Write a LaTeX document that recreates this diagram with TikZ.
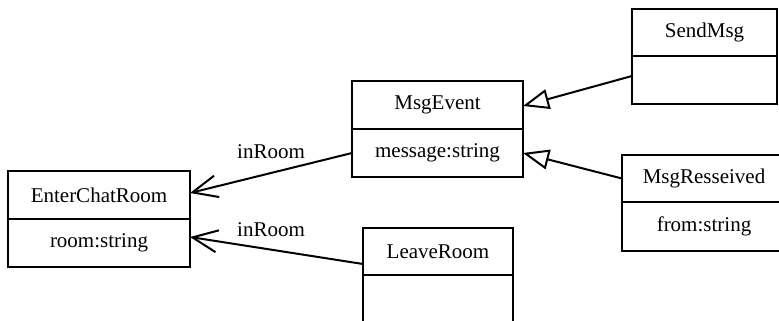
\documentclass[tikz,border=0pt]{standalone}
\usepackage{fontspec}
\setmainfont{Liberation Serif}
\usetikzlibrary{arrows.meta}
\begin{document}
\begin{tikzpicture}[x=1pt,y=-1pt,
  cls/.style={draw, line width=2pt, inner sep=0pt, outer sep=0pt, minimum height=48pt,
    font=\fontsize{21}{24}\selectfont},
  lnk/.style={line width=2pt},
  assoc/.style={lnk, -{Straight Barb[length=25pt,width=22pt,line width=2pt]}},
  inherit/.style={lnk, -{Triangle[open,length=26pt,width=20pt,line width=2pt]}},
  lbl/.style={font=\fontsize{21}{24}\selectfont, inner sep=0pt}]
\useasboundingbox (0,0) rectangle (779,321);
\clip (0,0) rectangle (779,321);
% EnterChatRoom
\node[cls, minimum width=182pt] (ecr) at (99,195) {EnterChatRoom};
\node[cls, minimum width=182pt, anchor=north] (ecra) at (ecr.south) {room:string};
% MsgEvent
\node[cls, minimum width=171pt] (meh) at (437.5,105) {MsgEvent};
\node[cls, minimum width=171pt, anchor=north] (mea) at (meh.south) {message:string};
% SendMsg
\node[cls, minimum width=145pt, minimum height=47pt] (smh) at (704.5,32.5) {SendMsg};
\node[cls, minimum width=145pt, anchor=north] (sma) at (smh.south) {};
% MsgResseived
\node[cls, minimum width=164pt, minimum height=47pt] (mrh) at (704,178.5) {MsgResseived};
\node[cls, minimum width=164pt, minimum height=49pt, anchor=north] (mra) at (mrh.south) {from:string};
% LeaveRoom
\node[cls, minimum width=150pt, minimum height=47pt] (lrh) at (438,251.5) {LeaveRoom};
\node[cls, minimum width=150pt, minimum height=60pt, anchor=north] (lra) at (lrh.south) {};
% connectors
\draw[assoc] (mea.west) -- ([yshift=2pt]ecr.east);
\draw[assoc] ([yshift=11pt]lrh.south west) -- ([yshift=6pt]ecra.east);
\draw[inherit] ([yshift=4pt]sma.west) -- ([yshift=-1pt]meh.east);
\draw[inherit] (mrh.west) -- (mea.east);
% labels
\node[lbl] (l1) at (271,152) {inRoom};
\node[lbl] (l2) at (271,230) {inRoom};
\end{tikzpicture}
\end{document}
